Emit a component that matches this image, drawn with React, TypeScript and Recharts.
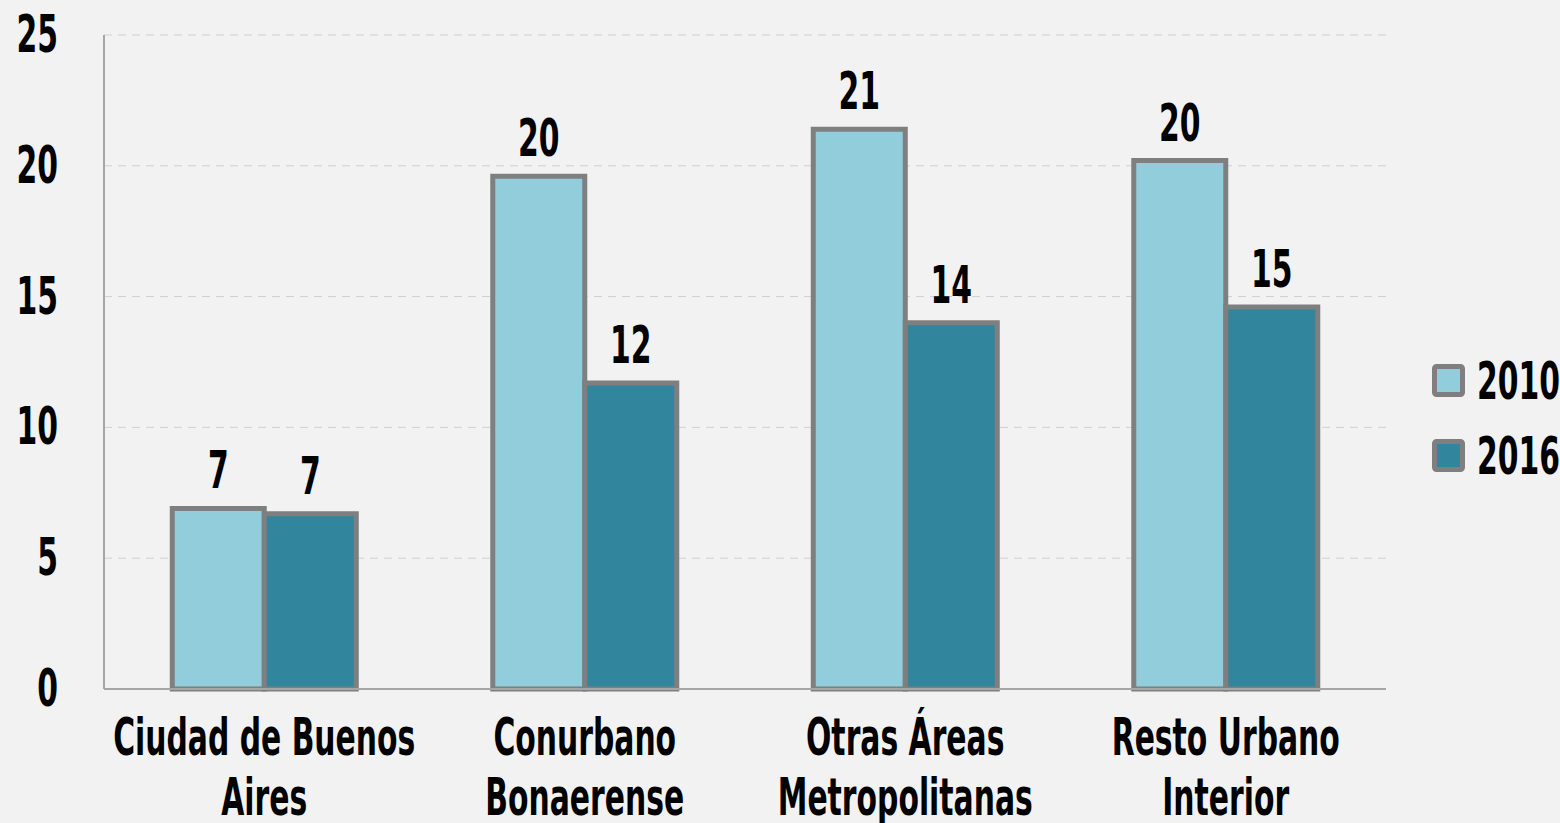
import { Bar, BarChart, CartesianGrid, LabelList, XAxis, YAxis } from 'recharts'

const regions = [
  'Ciudad de Buenos\nAires',
  'Conurbano\nBonaerense',
  'Otras Áreas\nMetropolitanas',
  'Resto Urbano\nInterior',
]
const values2010 = [6.9, 19.6, 21.4, 20.2]
const values2016 = [6.7, 11.7, 14.0, 14.6]
const yTicks = [0, 5, 10, 15, 20, 25]
const seriesNames = ['2010', '2016']

const data = regions.map((region, i) => ({
  region,
  y2010: values2010[i],
  y2016: values2016[i],
}))

const FONT = '"DejaVu Sans Condensed", "DejaVu Sans", sans-serif'
const FS = 51
const SX = 0.65
const LIGHT = '#92cddc'
const DARK = '#31859c'
const EDGE = '#7f7f7f'

// narrow bold text, squeezed horizontally to mimic the condensed face
function NarrowText({ x, y, anchor, children }: any) {
  return (
    <text
      transform={`translate(${x},${y}) scale(${SX},1)`}
      x={0}
      y={0}
      textAnchor={anchor}
      fontFamily={FONT}
      fontWeight="bold"
      fontSize={FS}
      fill="#000"
    >
      {children}
    </text>
  )
}

function RegionTick({ x, y, payload }: any) {
  const lines = String(payload.value).split('\n')
  return (
    <g>
      {lines.map((line: string, i: number) => (
        <NarrowText key={i} x={x} y={y + 66 + i * 60} anchor="middle">
          {line}
        </NarrowText>
      ))}
    </g>
  )
}

function ValueTick({ x, y, payload }: any) {
  return (
    <NarrowText x={x} y={y + 17} anchor="end">
      {payload.value}
    </NarrowText>
  )
}

function ValueLabel({ x, y, width, value }: any) {
  return (
    <NarrowText x={x + width / 2} y={y - 20} anchor="middle">
      {Math.round(Number(value))}
    </NarrowText>
  )
}

function LegendBox() {
  const colors = [LIGHT, DARK]
  return (
    <svg width={140} height={140} style={{ position: 'absolute', left: 1420, top: 350 }}>
      {seriesNames.map((name, i) => (
        <g key={name}>
          <rect
            x={14.5}
            y={16.5 + i * 75}
            width={28}
            height={28}
            rx={2}
            fill={colors[i]}
            stroke={EDGE}
            strokeWidth={5}
          />
          <NarrowText x={57} y={49 + i * 75} anchor="start">
            {name}
          </NarrowText>
        </g>
      ))}
    </svg>
  )
}

export default function App() {
  return (
    <div
      style={{
        position: 'absolute',
        left: 0,
        top: 0,
        width: 1560,
        height: 823,
        background: '#f2f2f2',
        overflow: 'hidden',
      }}
    >
      <BarChart
        width={1560}
        height={823}
        data={data}
        margin={{ top: 35, right: 174, bottom: 0, left: 0 }}
        barCategoryGap="21.3%"
        barGap={0}
      >
        <CartesianGrid stroke="#cfcfcf" strokeDasharray="8 6" vertical={false} />
        <XAxis
          dataKey="region"
          tick={<RegionTick />}
          tickLine={false}
          tickSize={0}
          tickMargin={0}
          axisLine={{ stroke: '#a6a6a6', strokeWidth: 2 }}
          interval={0}
          height={134}
        />
        <YAxis
          width={104}
          domain={[0, 25]}
          ticks={yTicks}
          tickLine={false}
          tickSize={0}
          tickMargin={46}
          axisLine={{ stroke: '#a6a6a6', strokeWidth: 2 }}
          tick={<ValueTick />}
        />
        <Bar dataKey="y2010" fill={LIGHT} stroke={EDGE} strokeWidth={5} isAnimationActive={false}>
          <LabelList dataKey="y2010" content={<ValueLabel />} />
        </Bar>
        <Bar dataKey="y2016" fill={DARK} stroke={EDGE} strokeWidth={5} isAnimationActive={false}>
          <LabelList dataKey="y2016" content={<ValueLabel />} />
        </Bar>
      </BarChart>
      <LegendBox />
    </div>
  )
}
